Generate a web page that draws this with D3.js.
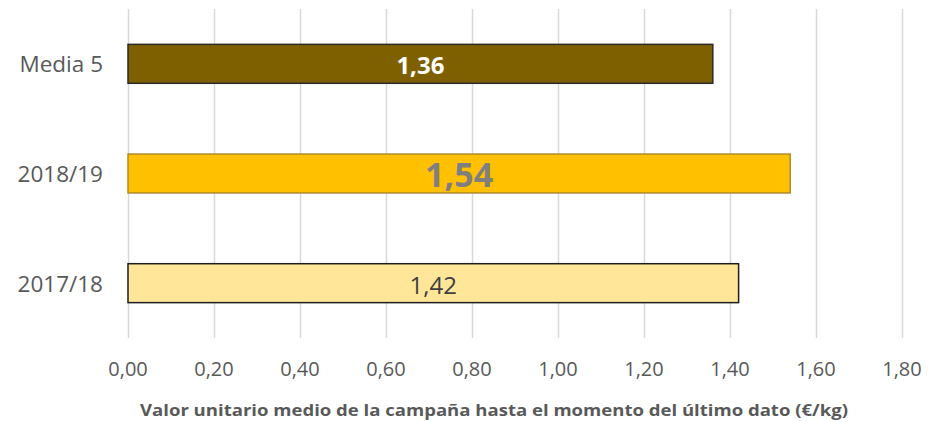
<!DOCTYPE html>
<html>
<head>
<meta charset="utf-8">
<script src="https://cdn.jsdelivr.net/npm/d3@7"></script>
<style>
  body { margin: 0; background: #fff; }
  svg { display: block; font-family: "Open Sans", sans-serif; overflow: visible; }
</style>
</head>
<body>
<div id="chart"></div>
<script>
const categories = ["Media 5", "2018/19", "2017/18"];
const values = [1.36, 1.54, 1.42];
const fills = ["#7F6000", "#FFC000", "#FFE699"];
const strokes = ["#2b2b2b", "#B08A2A", "#1e1e1e"];
const labelColors = ["#ffffff", "#7F7F7F", "#404040"];
const labelSizes = [24, 34, 24];
const labelWeights = ["bold", "bold", "normal"];
const tickValues = [0, 0.2, 0.4, 0.6, 0.8, 1.0, 1.2, 1.4, 1.6, 1.8];
const axisTitle = "Valor unitario medio de la campaña hasta el momento del último dato (€/kg)";

const width = 928, height = 422;
const margin = { top: 9, right: 26, bottom: 84, left: 128 };
const innerWidth = width - margin.left - margin.right;
const innerHeight = height - margin.top - margin.bottom;

const fmt = v => d3.format(".2f")(v).replace(".", ",");

const svg = d3.select("#chart").append("svg")
  .attr("width", width)
  .attr("height", height)
  .attr("viewBox", [0, 0, width, height]);

const innerChart = svg.append("g")
  .attr("transform", `translate(${margin.left}, ${margin.top})`);

const xScale = d3.scaleLinear()
  .domain([0, 1.8])
  .range([0, innerWidth]);

const yScale = d3.scaleBand()
  .domain(categories)
  .range([0, innerHeight])
  .paddingInner(0.645)
  .paddingOuter(0.3225);

// gridlines
innerChart.append("g")
  .selectAll("line")
  .data(tickValues)
  .join("line")
    .attr("x1", d => xScale(d) + 0.5)
    .attr("x2", d => xScale(d) + 0.5)
    .attr("y1", 0)
    .attr("y2", innerHeight)
    .attr("stroke", "#d9d9d9")
    .attr("stroke-width", 1.5);

// x tick labels
innerChart.append("g")
  .selectAll("text")
  .data(tickValues)
  .join("text")
    .attr("x", d => xScale(d))
    .attr("y", innerHeight + 38)
    .attr("text-anchor", "middle")
    .attr("font-size", 20)
    .attr("fill", "#595959")
    .text(fmt);

// category labels
innerChart.append("g")
  .selectAll("text")
  .data(categories)
  .join("text")
    .attr("x", -25)
    .attr("y", d => yScale(d) + yScale.bandwidth() / 2 + 8.5)
    .attr("text-anchor", "end")
    .attr("font-size", 22.5)
    .attr("fill", "#595959")
    .text(d => d);

// bars
innerChart.append("g")
  .selectAll("rect")
  .data(values)
  .join("rect")
    .attr("x", 0)
    .attr("y", (d, i) => yScale(categories[i]))
    .attr("width", d => xScale(d))
    .attr("height", yScale.bandwidth())
    .attr("fill", (d, i) => fills[i])
    .attr("stroke", (d, i) => strokes[i])
    .attr("stroke-width", 1.5);

// bar value labels
innerChart.append("g")
  .selectAll("text")
  .data(values)
  .join("text")
    .attr("x", d => xScale(d) / 2)
    .attr("y", (d, i) => yScale(categories[i]) + yScale.bandwidth() / 2 + (i === 1 ? 13 : 10.5))
    .attr("text-anchor", "middle")
    .attr("font-size", (d, i) => labelSizes[i])
    .attr("font-weight", (d, i) => labelWeights[i])
    .attr("fill", (d, i) => labelColors[i])
    .text(fmt);

// axis title
svg.append("text")
  .attr("x", 494)
  .attr("y", 416)
  .attr("text-anchor", "middle")
  .attr("font-size", 15.5)
  .attr("font-weight", "bold")
  .attr("fill", "#595959")
  .attr("textLength", 708)
  .attr("lengthAdjust", "spacingAndGlyphs")
  .text(axisTitle);
</script>
</body>
</html>
